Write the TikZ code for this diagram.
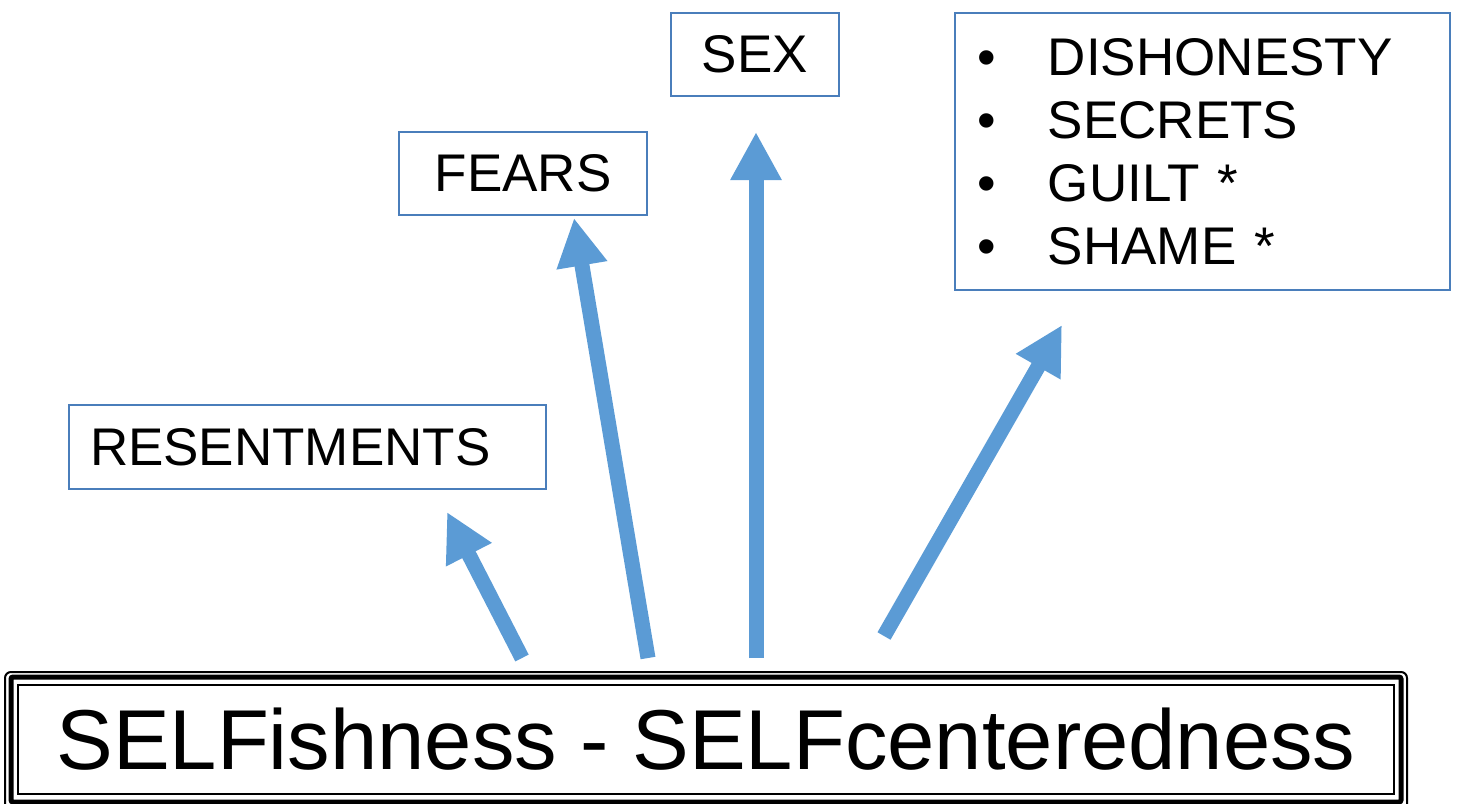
\documentclass[tikz,border=0pt]{standalone}
\usepackage{fontspec}
\setmainfont{Liberation Sans}
\usetikzlibrary{arrows.meta}
\definecolor{boxblue}{HTML}{4A7EBB}
\definecolor{arrowblue}{HTML}{5B9BD5}
\begin{document}
\begin{tikzpicture}
[x=1pt, y=-1pt, every node/.style={inner sep=0pt},
 sinbox/.style={draw=boxblue, line width=1.5pt, fill=white, font=\fontsize{53}{63}\selectfont},
 bigarrow/.style={line width=15pt, color=arrowblue, -{Triangle[length=48pt, width=48pt]}}]
\useasboundingbox (0,0) rectangle (1458,803);
\node (resent) [sinbox, minimum width=477pt, minimum height=84pt, text width=435pt, align=left] at (307.5, 447.0) {RESENTMENTS};
\node (fears) [sinbox, minimum width=248pt, minimum height=83pt] at (523.0, 173.5) {FEARS};
\node (sex) [sinbox, minimum width=168pt, minimum height=83pt] at (755.0, 54.5) {SEX};
\node (list) [sinbox, minimum width=495pt, minimum height=277pt, text width=451pt, align=left] at (1202.5, 151.5) {\makebox[71pt][l]{•}DISHONESTY\\\makebox[71pt][l]{•}SECRETS\\\makebox[71pt][l]{•}GUILT *\\\makebox[71pt][l]{•}SHAME *};
\node (self) [draw=black, line width=2pt, minimum width=1376pt, minimum height=109pt, font=\fontsize{85}{100}\selectfont] at (706.0, 739.5) {SELFishness - SELFcenteredness};
\draw [line width=5pt, rounded corners=2pt] ([xshift=-6pt, yshift=7pt]self.north west) rectangle ([xshift=6pt, yshift=-7pt]self.south east);
\draw [line width=2pt, rounded corners=6pt] ([xshift=-12pt, yshift=12pt]self.north west) rectangle ([xshift=12pt, yshift=-16pt]self.south east);
\coordinate (t1) at (522, 658);
\coordinate (t2) at (648, 658);
\coordinate (t3) at (756, 658);
\coordinate (t4) at (884, 636);
\coordinate (h1) at (447, 512);
\coordinate (h2) at (574, 218);
\coordinate (h3) at (756, 132);
\coordinate (h4) at (1062, 325);
\draw [bigarrow] (t1) to (h1);
\draw [bigarrow] (t2) to (h2);
\draw [bigarrow] (t3) to (h3);
\draw [bigarrow] (t4) to (h4);
\end{tikzpicture}
\end{document}
